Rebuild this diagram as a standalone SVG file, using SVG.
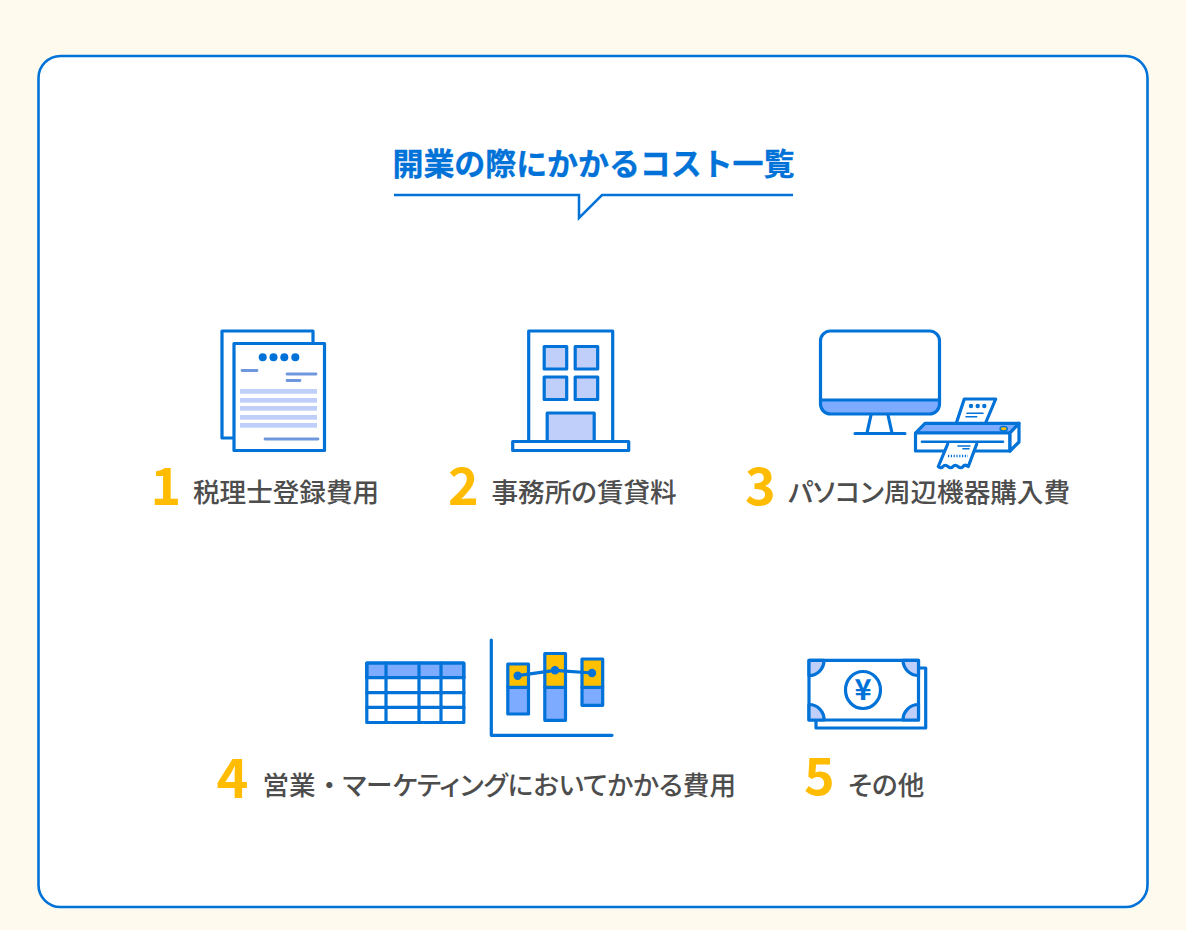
<svg xmlns="http://www.w3.org/2000/svg" width="1186" height="930" viewBox="0 0 1186 930">
<style>
.s{fill:none;stroke:#0072d8;stroke-width:3.2;stroke-linejoin:round;stroke-linecap:round}
.w{fill:#fff;stroke:#0072d8;stroke-width:3.2;stroke-linejoin:round;stroke-linecap:round}
.l{fill:#bfcffa;stroke:#0072d8;stroke-width:3.2;stroke-linejoin:round}
.m{fill:#7dabff;stroke:#0072d8;stroke-width:3.2;stroke-linejoin:round}
.y{fill:#ffc000;stroke:#0072d8;stroke-width:3.2;stroke-linejoin:round}
.t{fill:#6f97dd;stroke:#6f97dd;stroke-width:2.8;stroke-linecap:round}
.b{fill:#bfcffa}
.d{fill:#0072d8}
.n{font-family:"Noto Sans CJK JP","Noto Sans",sans-serif;font-weight:700;font-size:52px;fill:#ffbc00}
.x{font-family:"Noto Sans CJK JP","Noto Sans",sans-serif;font-weight:500;font-size:26.6px;fill:#4d4d4d;font-feature-settings:"palt"}
</style>
<rect width="1186" height="930" fill="#fffaee"/>
<rect x="38.5" y="56" width="1109" height="851" rx="22" fill="#fff" stroke="#0072d8" stroke-width="2.6"/>
<g id="title">
<text x="392.5" y="175" font-family="'Noto Sans CJK JP','Noto Sans',sans-serif" font-weight="700" font-size="31px" fill="#0072d8" stroke="#0072d8" stroke-width="0.3" textLength="402" lengthAdjust="spacing">開業の際にかかるコスト一覧</text>
<path d="M394 195H579V218L602 195H793" fill="none" stroke="#0072d8" stroke-width="2.5"/>
</g>
<g id="item1">
<rect class="w" x="222" y="331" width="91" height="107"/>
<rect class="w" x="234" y="343.5" width="90.5" height="107"/>
<circle class="d" cx="262.7" cy="357.3" r="4"/><circle class="d" cx="273.5" cy="357.3" r="4"/><circle class="d" cx="284.3" cy="357.3" r="4"/><circle class="d" cx="295.3" cy="357.3" r="4"/>
<path class="t" d="M242 370.5H257M287 374H316M287 380.5H300M265 439H318"/>
<rect class="b" x="240" y="389" width="77" height="4.7"/><rect class="b" x="240" y="398" width="77" height="4.7"/><rect class="b" x="240" y="406" width="77" height="4.7"/><rect class="b" x="240" y="415" width="77" height="4.7"/><rect class="b" x="240" y="423" width="77" height="4.7"/>
<text class="n" x="150.5" y="505">1</text>
<text class="x" x="193" y="502">税理士登録費用</text>
</g>
<g id="item2">
<rect class="w" x="528.7" y="331" width="84" height="112"/>
<rect class="l" x="544.2" y="346.5" width="22.5" height="22.5"/><rect class="l" x="575.2" y="346.5" width="22.5" height="22.5"/>
<rect class="l" x="544.2" y="377" width="22.5" height="22.5"/><rect class="l" x="575.2" y="377" width="22.5" height="22.5"/>
<rect class="l" x="547.2" y="413" width="47" height="29"/>
<rect class="w" x="512.7" y="441.5" width="116" height="9"/>
<text class="n" x="448" y="505">2</text>
<text class="x" x="491.5" y="502">事務所の賃貸料</text>
</g>
<g id="item3">
<path class="m" d="M820.5 400H939.5V404A10 10 0 0 1 929.5 414H830.5A10 10 0 0 1 820.5 404Z"/>
<path class="s" d="M820.5 400V341A10 10 0 0 1 830.5 331H929.5A10 10 0 0 1 939.5 341V400"/>
<path class="s" d="M871 415L867 433M888 415L892 433M855 433.5H905"/>
<path class="w" d="M956.7 422L964.3 399H995.7L986 422"/>
<circle class="d" cx="971" cy="406" r="2.2"/><circle class="d" cx="977.7" cy="406" r="2.2"/><circle class="d" cx="984.3" cy="406" r="2.2"/>
<path class="s" style="stroke-width:1.6" d="M967 413.3H983M966 416.7H976.7"/>
<path class="m" d="M915.5 433L925 423.3H1019L1010 433Z"/>
<path class="w" d="M915.5 433H1010V451H915.5Z"/>
<path class="w" d="M1010 433L1019 423.3V442L1010 451Z"/>
<ellipse cx="1003.7" cy="428.7" rx="3.6" ry="2.2" fill="#ffc000" stroke="#0072d8" stroke-width="1.5"/>
<path class="s" style="stroke-width:2.6" d="M922 441.7H1003"/>
<path class="w" d="M947.7 444L938.3 466.5Q941 469 943 466.5T948 466.5T953 466.5T958 466.5T963 466.5T968.3 466.5L976.7 444"/>
<path class="s" style="stroke-width:1.6" d="M958 446H970M963 448.7H969"/>
<path class="s" style="stroke-width:2.4;stroke-dasharray:1.2 1.6;stroke-linecap:butt" d="M948 456H968"/>
<text class="n" x="745" y="505">3</text>
<text class="x" x="788" y="502" textLength="282" lengthAdjust="spacing">パソコン周辺機器購入費</text>
</g>
<g id="item4">
<rect class="m" x="366.8" y="663" width="97" height="14.5"/>
<rect class="s" x="366.8" y="663" width="97" height="59.5"/>
<path class="s" d="M366.8 677.7H464M366.8 692.7H464M366.8 707.3H464M386 663V722.5M419 663V722.5M441 663V722.5"/>
<path class="s" d="M491.3 640V735.3H612"/>
<rect class="m" x="507.8" y="687.3" width="20.7" height="26.7"/><rect class="y" x="507.8" y="664" width="20.7" height="23.3"/>
<rect class="m" x="544.8" y="687.3" width="20.7" height="33"/><rect class="y" x="544.8" y="653.5" width="20.7" height="33.8"/>
<rect class="m" x="582" y="687.3" width="20.7" height="18"/><rect class="y" x="582" y="659" width="20.7" height="28.3"/>
<path class="s" d="M517.7 675.7L555 670.3L592 673"/>
<circle class="d" cx="517.7" cy="675.7" r="4.2"/><circle class="d" cx="555" cy="670.3" r="4.2"/><circle class="d" cx="592" cy="673" r="4.2"/>
<text class="n" x="216.5" y="798" style="font-size:54px">4</text>
<text class="x" x="262.5" y="795">営業<tspan dx="7">・</tspan><tspan dx="6.5">マーケティングにおいてかかる費用</tspan></text>
</g>
<g id="item5">
<path class="s" d="M918 668H925.7V728H816V720"/>
<rect class="w" x="809" y="660.3" width="109.5" height="59.7"/>
<path class="l" d="M809 660.3H824A15 15 0 0 1 809 675.5Z"/>
<path class="l" d="M918.5 660.3H903A15.5 15.5 0 0 0 918.5 675.5Z"/>
<path class="l" d="M809 720H824A15 15 0 0 0 809 704.5Z"/>
<path class="l" d="M918.5 720H903A15.5 15.5 0 0 1 918.5 704.5Z"/>
<ellipse class="s" cx="863" cy="690" rx="17.5" ry="18.5"/>
<text x="863" y="700" text-anchor="middle" font-family="'Noto Sans CJK JP',sans-serif" font-weight="700" font-size="29px" fill="#0072d8">¥</text>
<text class="n" x="804" y="795">5</text>
<text class="x" x="848" y="795">その他</text>
</g>
</svg>
